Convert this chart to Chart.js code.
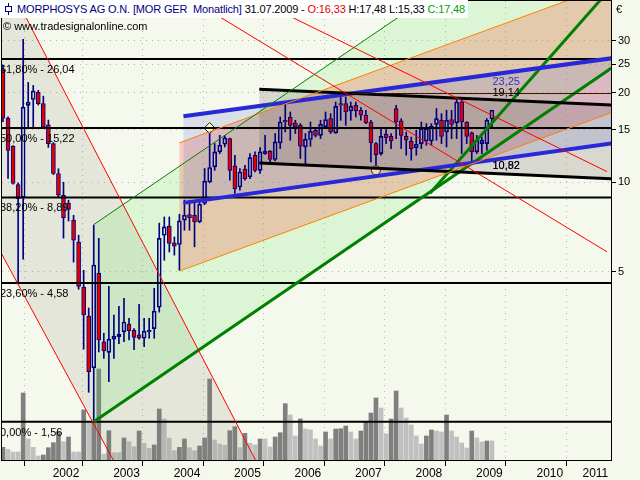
<!DOCTYPE html>
<html>
<head>
<meta charset="utf-8">
<script src="https://cdn.jsdelivr.net/npm/chart.js@4.4.1/dist/chart.umd.min.js"></script>
<style>
  html, body { margin:0; padding:0; background:#f5f8ec; }
  #wrap { position:relative; width:640px; height:480px; overflow:hidden; font-family:"Liberation Sans", Arial, sans-serif; font-size:11px; }
  #c { position:absolute; left:0; top:0; }
  #title { position:absolute; left:0; top:0; height:18px; line-height:18px; background:#ffffff; padding:0 3px 0 17px; white-space:pre; color:#000; letter-spacing:-0.15px; }
  .ico { position:absolute; left:4px; top:3px; width:9px; height:12px; }
  .ico i { position:absolute; left:4px; top:0; width:1px; height:12px; background:#000080; }
  .ico b { position:absolute; left:1px; top:3px; width:5px; height:4px; border:1px solid #000080; background:#fff; }
  #copy { position:absolute; left:3px; top:19px; line-height:14px; white-space:pre; color:#000; }
</style>
</head>
<body>
<div id="wrap">
  <canvas id="c" width="640" height="480"></canvas>
  <div id="title"><span class="ico"><i></i><b></b></span><span id="tName" style="color:#000080"></span><span id="tDate"></span><span id="tO" style="color:#e00000"></span><span id="tHL"></span><span id="tC" style="color:#00a000"></span></div>
  <div id="copy">© www.tradesignalonline.com</div>
</div>
<script>
// ---------- DATA ----------
const titleName = 'MORPHOSYS AG O.N. [MOR GER  Monatlich]';
const titleDate = '31.07.2009';
const firstBar = -7;              // first monthly bar = June 2001 (months counted from Jan 2002)
const yearLabels = ['2002','2003','2004','2005','2006','2007','2008','2009','2010','2011'];
const yTicks = [5, 10, 15, 20, 25, 30];

const openP = [23.83,16.43,13.20,9.82,8.90,18.16,19.00,20.10,18.40,15.60,13.50,10.70,9.04,8.50,7.45,6.28,4.43,3.54,2.37,4.93,
  2.90,2.67,2.96,3.02,3.13,3.33,3.17,3.06,2.98,3.13,3.21,3.79,6.63,7.11,6.25,6.17,7.45,7.78,7.74,7.35,
  8.48,10.02,11.26,12.65,13.43,14.03,11.35,9.64,11.08,10.42,12.33,10.97,12.49,12.72,11.93,13.56,16.17,16.59,15.84,15.55,
  13.15,13.93,14.96,14.39,15.36,16.38,14.66,18.41,18.41,17.38,18.17,17.47,16.81,15.96,13.50,12.49,14.51,14.28,17.71,16.09,
  14.28,13.74,13.08,13.50,13.77,13.77,15.67,16.17,14.77,16.26,15.84,18.63,15.96,14.66,12.65,13.50,13.50,16.33];
const highP = [24.80,16.60,13.30,9.95,30.30,21.70,21.20,20.40,19.50,16.20,13.60,11.10,10.00,8.70,7.74,6.63,5.05,3.77,7.17,6.47,
  3.10,4.46,3.57,3.82,4.06,3.48,3.21,3.88,3.48,3.48,4.39,7.28,7.64,7.64,6.54,7.80,8.70,8.70,8.56,8.70,
  11.12,14.77,13.50,14.39,14.39,14.10,12.33,11.12,11.41,12.49,12.65,13.08,14.39,12.81,14.59,16.59,18.41,17.25,16.17,15.76,
  14.59,15.96,15.16,16.17,17.25,17.03,18.63,20.13,19.37,18.63,18.63,17.84,17.47,16.17,13.60,15.16,15.04,14.59,18.17,16.38,
  14.77,14.20,14.96,15.96,15.76,15.76,17.71,17.03,17.47,17.47,19.00,19.00,16.00,14.77,14.39,14.20,16.38,17.48];
const lowP = [16.00,10.30,9.85,4.54,5.50,15.30,15.35,18.20,15.20,13.10,10.60,8.90,6.48,7.40,5.38,4.36,2.74,1.96,1.56,2.68,
  2.55,2.13,2.55,2.86,2.90,2.94,2.73,2.96,2.79,2.98,2.98,3.65,5.46,5.82,5.68,5.05,6.89,6.89,6.06,7.30,
  8.40,9.95,10.97,12.49,13.15,10.16,9.16,9.40,10.16,10.29,10.83,10.70,12.40,11.71,11.80,12.98,14.77,13.85,14.59,12.02,
  11.41,13.22,14.20,14.03,15.30,14.59,14.60,16.17,15.55,16.17,16.59,16.17,15.76,11.70,10.97,12.33,13.50,12.98,14.03,12.98,
  12.33,11.86,12.33,12.98,13.32,13.32,13.85,13.50,13.15,14.03,14.03,12.49,13.50,11.71,12.49,12.49,12.81,15.33];
const closeP = [16.43,12.81,9.90,8.81,17.90,18.60,20.30,18.40,15.35,13.50,10.70,9.04,7.60,8.10,6.38,4.46,3.57,2.30,5.26,2.94,
  2.70,2.96,3.03,3.08,3.38,3.16,3.00,2.98,3.15,3.17,3.68,6.47,7.07,6.22,6.09,7.41,7.74,7.60,7.35,8.43,
  10.08,11.21,12.65,13.32,14.10,10.97,9.52,10.83,10.29,12.11,10.97,12.65,12.72,11.93,13.67,15.96,15.96,15.55,15.36,13.22,
  13.96,14.85,14.39,15.67,16.26,14.77,18.02,18.17,17.25,18.02,17.38,16.81,15.84,13.56,12.39,14.28,14.14,13.77,15.96,14.39,
  13.85,12.98,13.43,15.16,15.16,15.44,16.38,14.28,16.17,15.67,18.63,15.96,14.28,12.65,13.85,13.85,16.17,17.48];
// monthly volume (thousands of shares)
const volume = [127,107,80,80,670,210,127,40,50,123,173,283,183,230,80,80,500,377,380,910,
  60,293,73,73,220,183,133,290,167,117,150,510,410,220,93,127,210,123,93,140,
  220,810,200,160,147,293,333,123,267,167,150,210,210,130,230,273,563,450,240,410,
  310,300,210,140,280,210,310,313,340,280,210,290,380,470,620,520,260,410,690,520,
  420,350,240,160,240,300,290,280,450,290,230,170,120,290,220,180,190,190];

// Fibonacci retracement levels
const fibPct = [61.8, 50.0, 38.2, 23.6, 0.0];
const fibVal = [26.04, 15.22, 8.89, 4.58, 1.56];

// drawing tools: [month, price] anchor pairs
const redLineA   = [[-4.7, 42.6], [43.6, 1.115]];
const redLineB   = [[-7.6, 5.87], [15.4, 1.115]];
const redLine1   = [[41.51, 42.6], [112.83, 10.86]];
const redLine2   = [[28.97, 42.6], [112.83, 5.83]];
const greenLine1 = [[11, 7.2], [77.8, 42.6]];
const greenLine2 = [[11, 1.56], [114.42, 24.71]];
const greenLine3 = [[77.72, 9.18], [112.32, 42.6]];
const orangeUpper = [[28, 13.58], [107.72, 42.6]];
const orangeLower = [[28, 5.02], [114.42, 17.33]];
const blueUpper  = [[28.8, 16.68], [114.42, 26.25]];
const blueLower  = [[28.8, 8.52], [114.42, 13.56]];
const blackUpper = [[43.85, 20.56], [114.42, 18.17]];
const blackLower = [[43.85, 11.61], [114.42, 10.26]];
const levelLine  = [[62, 19.9], [114.42, 19.9]];
const markerDiamond = [[34, 15.22]];
const markerCircle  = [[67, 10.97]];
const valueLabelText = ['23,25', '19,14', '10,92', '10,82'];

// ---------- SCALE RANGES & STYLES ----------
const xMin = -7.2, xMax = 113.63, yMin = 1.159, yMax = 40.8, volMax = 4590;
const FONT = '"Liberation Sans", Arial, sans-serif';
const NAVY = '#000080';

const fmt2 = v => v.toFixed(2).replace('.', ',');
const barMonth = openP.map((_, i) => firstBar + i);
const lastM = barMonth[barMonth.length - 1];

// title
const nLast = openP.length - 1;
document.getElementById('tName').textContent = titleName;
document.getElementById('tDate').textContent = ' ' + titleDate + ' - ';
document.getElementById('tO').textContent = 'O:' + fmt2(openP[nLast]);
document.getElementById('tHL').textContent = ' H:' + fmt2(highP[nLast]) + ' L:' + fmt2(lowP[nLast]) + ' ';
document.getElementById('tC').textContent = 'C:' + fmt2(closeP[nLast]);

// x ticks: year boundaries (marks + grid) and year label positions
const xTickDefs = [];
yearLabels.forEach((lbl, i) => {
  xTickDefs.push({ value: 12 * i, label: '' });
  xTickDefs.push({ value: Math.min(12 * i + 5.5, xMax - 3.1), label: lbl });
});
const xLabelMap = new Map(xTickDefs.map(t => [t.value, t.label]));
const isBoundary = v => Number.isInteger(v) && v % 12 === 0;

const fillAreas = [
  { pts: [redLineA[0], redLineA[1], redLineB[1], redLineB[0], [redLineB[0][0], redLineA[0][1]]], color: 'rgba(128,128,112,0.15)' },
  { pts: [greenLine1[0], greenLine1[1], [greenLine2[1][0], greenLine1[1][1]], greenLine2[1], greenLine2[0]], color: 'rgba(100,240,100,0.17)' },
  { pts: [orangeUpper[0], orangeUpper[1], [orangeLower[1][0], orangeUpper[1][1]], orangeLower[1], orangeLower[0]], color: 'rgba(248,91,72,0.28)' },
  { pts: [blueUpper[0], blueUpper[1], blueLower[1], blueLower[0]], color: 'rgba(60,80,220,0.15)' },
  { pts: [blackUpper[0], blackUpper[1], blackLower[1], blackLower[0]], color: 'rgba(90,70,70,0.18)' }
];

const lineDefs = [
  { pts: redLineA, color: '#ff0000', width: 1 },
  { pts: redLineB, color: '#ff0000', width: 1 },
  { pts: redLine1, color: '#ff0000', width: 1 },
  { pts: redLine2, color: '#ff0000', width: 1 },
  { pts: greenLine1, color: '#008000', width: 1 },
  { pts: orangeUpper, color: '#ff8000', width: 1 },
  { pts: orangeLower, color: '#ff8000', width: 1 },
  { pts: levelLine, color: '#401000', width: 1 },
  { pts: blackUpper, color: '#000000', width: 3 },
  { pts: blackLower, color: '#000000', width: 3 },
  { pts: blueUpper, color: '#2828d8', width: 4 },
  { pts: blueLower, color: '#2828d8', width: 4 },
  { pts: greenLine2, color: '#008000', width: 3 },
  { pts: greenLine3, color: '#008000', width: 3 }
];

const valueLabelDefs = [
  { text: valueLabelText[0], line: blueUpper, dy: 7, color: '#3434c8' },
  { text: valueLabelText[1], line: blackUpper, dy: -7, color: '#000000' },
  { text: valueLabelText[2], line: blackLower, dy: -7, color: '#1a1a70' },
  { text: valueLabelText[3], line: blackLower, dy: -7, color: '#000000' }
];
const lineValueAt = (line, m) => {
  const [[m0, p0], [m1, p1]] = line;
  const t = (m - m0) / (m1 - m0);
  return Math.exp(Math.log(p0) + t * (Math.log(p1) - Math.log(p0)));
};

// ---------- DATASETS ----------
const toXY = pts => pts.map(([m, p]) => ({ x: m, y: p }));
const datasets = [];

datasets.push({
  type: 'bar', role: 'volume', yAxisID: 'yv', order: 100, grouped: false,
  data: barMonth.map((m, i) => ({ x: m, y: volume[i] })),
  backgroundColor: volume.map((v, i) => (i === 0 || v > volume[i - 1]) ? '#7f7f7f' : '#c0c0c0'),
  barThickness: 4, borderWidth: 0
});
datasets.push({
  type: 'bar', yAxisID: 'y', order: 61, grouped: false,
  data: barMonth.map((m, i) => ({ x: m, y: [Math.max(openP[i], closeP[i]), highP[i]] })),
  backgroundColor: NAVY, barThickness: 1, borderWidth: 0
});
datasets.push({
  type: 'bar', yAxisID: 'y', order: 61, grouped: false,
  data: barMonth.map((m, i) => ({ x: m, y: [lowP[i], Math.min(openP[i], closeP[i])] })),
  backgroundColor: NAVY, barThickness: 1, borderWidth: 0
});
datasets.push({
  type: 'bar', yAxisID: 'y', order: 60, grouped: false,
  data: barMonth.map((m, i) => ({ x: m, y: [openP[i], closeP[i]] })),
  backgroundColor: barMonth.map((m, i) => closeP[i] < openP[i] ? '#e00000' : 'rgba(0,0,0,0)'),
  borderColor: NAVY, borderWidth: 1, borderSkipped: false, barThickness: 4
});
datasets.push({
  type: 'line', yAxisID: 'y', order: 30, showLine: false, data: toXY(markerDiamond),
  pointStyle: 'rectRot', pointRadius: 5.5, pointBackgroundColor: '#ffffcc', pointBorderColor: '#202020', pointBorderWidth: 1
});
datasets.push({
  type: 'line', yAxisID: 'y', order: 30, showLine: false, data: toXY(markerCircle),
  pointStyle: 'circle', pointRadius: 4.5, pointBackgroundColor: '#f0dcb4', pointBorderColor: '#402000', pointBorderWidth: 1
});
lineDefs.forEach(d => datasets.push({
  type: 'line', yAxisID: 'y', order: 10, data: toXY(d.pts),
  borderColor: d.color, borderWidth: d.width, pointRadius: 0, fill: false, tension: 0, clip: 0
}));
fibVal.forEach(v => datasets.push({
  type: 'line', yAxisID: 'y', order: 10, data: [{ x: xMin - 1, y: v }, { x: xMax + 1, y: v }],
  borderColor: '#000000', borderWidth: 2, pointRadius: 0, fill: false, tension: 0, clip: 0
}));

// ---------- PLUGINS ----------
const bgPlugin = {
  id: 'bg',
  beforeDraw(chart) {
    const { ctx } = chart;
    ctx.save(); ctx.fillStyle = '#f5f8ec'; ctx.fillRect(0, 0, chart.width, chart.height); ctx.restore();
  }
};
const fillPlugin = {
  id: 'channelFills',
  afterDatasetDraw(chart, args) {
    if (chart.data.datasets[args.index].role !== 'volume') return;
    const { ctx, chartArea: a, scales: { x, y } } = chart;
    ctx.save();
    ctx.beginPath(); ctx.rect(a.left, a.top, a.right - a.left, a.bottom - a.top); ctx.clip();
    fillAreas.forEach(f => {
      ctx.beginPath();
      f.pts.forEach(([m, p], k) => {
        const px = x.getPixelForValue(m), py = y.getPixelForValue(p);
        if (k) ctx.lineTo(px, py); else ctx.moveTo(px, py);
      });
      ctx.closePath(); ctx.fillStyle = f.color; ctx.fill();
    });
    ctx.restore();
  }
};
const textPlugin = {
  id: 'texts',
  afterDatasetsDraw(chart) {
    const { ctx, chartArea: a, scales: { x, y } } = chart;
    ctx.save();
    ctx.beginPath(); ctx.rect(a.left, a.top, a.right - a.left, a.bottom - a.top); ctx.clip();
    ctx.font = '11px ' + FONT;
    ctx.textAlign = 'left';
    ctx.textBaseline = 'alphabetic';
    ctx.fillStyle = '#000';
    fibVal.forEach((v, i) => {
      const py = y.getPixelForValue(v);
      ctx.fillText(fmt2(fibPct[i]) + '% - ' + fmt2(v), a.left - 2, py + 14);
    });
    ctx.textBaseline = 'middle';
    const lx = x.getPixelForValue(lastM) + 0.5;
    valueLabelDefs.forEach(d => {
      const py = y.getPixelForValue(lineValueAt(d.line, lastM)) + d.dy;
      ctx.fillStyle = d.color;
      ctx.fillText(d.text, lx, py);
    });
    ctx.restore();
    ctx.save();
    ctx.font = '11px ' + FONT; ctx.fillStyle = '#000'; ctx.textBaseline = 'alphabetic';
    ctx.fillText('€', a.right + 5, 13);
    ctx.restore();
  },
  afterDraw(chart) {
    const { ctx, chartArea: a } = chart;
    ctx.save();
    ctx.strokeStyle = '#000'; ctx.lineWidth = 1;
    ctx.strokeRect(a.left - 0.5, a.top - 0.5, a.right - a.left + 1, a.bottom - a.top + 1);
    ctx.restore();
  }
};

const noPad = s => { s.paddingTop = 0; s.paddingBottom = 0; s.paddingLeft = 0; s.paddingRight = 0; };

// ---------- CHART ----------
new Chart(document.getElementById('c'), {
  type: 'bar',
  data: { datasets },
  plugins: [bgPlugin, fillPlugin, textPlugin],
  options: {
    responsive: false, animation: false, devicePixelRatio: 1, events: [],
    layout: { autoPadding: false, padding: { left: 2, top: 1, right: 0, bottom: 0 } },
    plugins: { legend: { display: false }, tooltip: { enabled: false }, title: { display: false } },
    scales: {
      x: {
        type: 'linear', position: 'bottom', min: xMin, max: xMax, offset: false, bounds: 'data',
        afterBuildTicks: s => { s.ticks = xTickDefs.map(t => ({ value: t.value })); },
        afterFit: s => { s.height = 20; noPad(s); },
        ticks: { autoSkip: false, maxRotation: 0, minRotation: 0, padding: 0, color: '#000',
                 font: { family: FONT, size: 12 }, callback: v => xLabelMap.get(v) ?? '' },
        grid: {
          color: c => isBoundary(c.tick && c.tick.value) ? '#b4b4b4' : 'rgba(0,0,0,0)',
          tickColor: c => isBoundary(c.tick && c.tick.value) ? '#000000' : 'rgba(0,0,0,0)',
          tickLength: 6, lineWidth: 1
        },
        border: { display: false, dash: [1, 5] }
      },
      y: {
        type: 'logarithmic', position: 'right', min: yMin, max: yMax, bounds: 'data',
        afterBuildTicks: s => { s.ticks = yTicks.map(v => ({ value: v })); },
        afterFit: s => { s.width = 29; noPad(s); },
        ticks: { padding: 2, color: '#000', font: { family: FONT, size: 11 }, callback: v => String(v) },
        grid: { color: '#b4b4b4', tickColor: '#000000', tickLength: 5, lineWidth: 1 },
        border: { display: false, dash: [1, 5] }
      },
      yv: { type: 'linear', display: false, min: 0, max: volMax }
    }
  }
});
</script>
</body>
</html>
